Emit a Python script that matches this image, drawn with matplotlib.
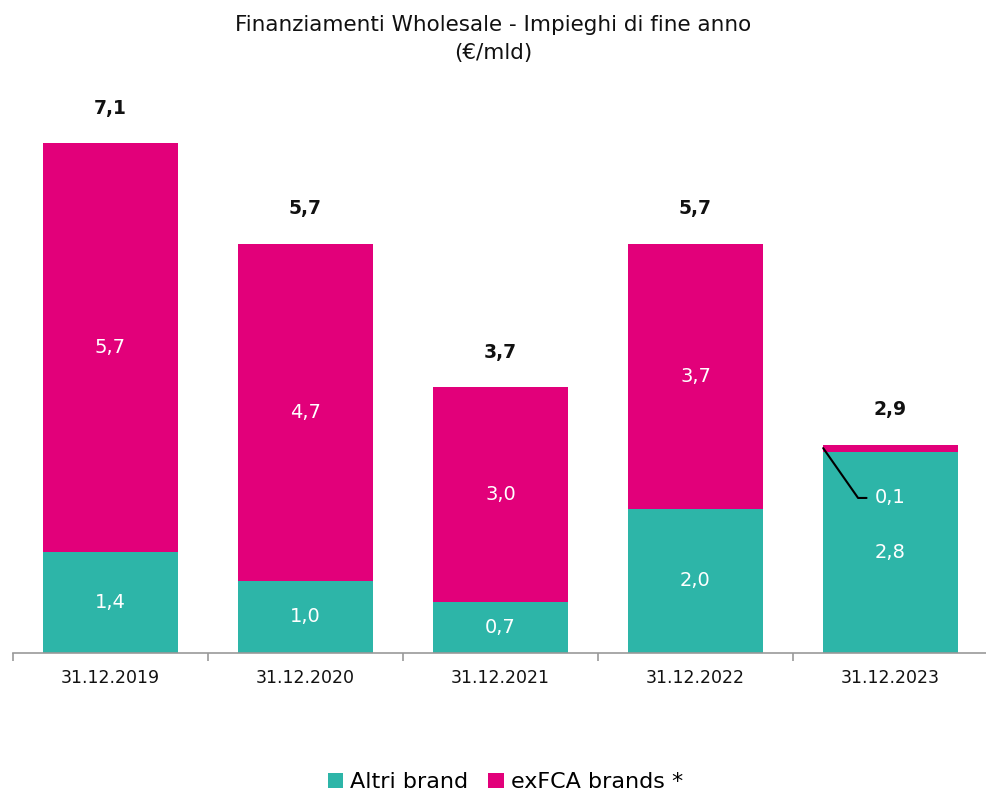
import matplotlib.pyplot as plt
import numpy as np

plt.rcParams['font.family'] = ['DejaVu Sans']

# dati
anni = ['31.12.2019', '31.12.2020', '31.12.2021', '31.12.2022', '31.12.2023']
altri_brand = [1.4, 1.0, 0.7, 2.0, 2.8]
exfca_brands = [5.7, 4.7, 3.0, 3.7, 0.1]
totali = [7.1, 5.7, 3.7, 5.7, 2.9]

teal = '#2DB5A8'
magenta = '#E2007A'

fig = plt.figure(figsize=(9.87, 7.96), dpi=100)
ax = fig.add_axes([0.013, 0.18, 0.988, 0.707])

x = np.arange(len(anni))
w = 0.69
b1 = ax.bar(x, altri_brand, w, color=teal, label='Altri brand')
b2 = ax.bar(x, exfca_brands, w, bottom=altri_brand, color=magenta, label='exFCA brands *')

def fmt(v):
    return f'{v:.1f}'.replace('.', ',')

for i in range(len(anni)):
    ax.text(x[i], altri_brand[i] / 2, fmt(altri_brand[i]), color='white',
            ha='center', va='center', fontsize=14)
    if exfca_brands[i] >= 0.5:
        ax.text(x[i], altri_brand[i] + exfca_brands[i] / 2, fmt(exfca_brands[i]),
                color='white', ha='center', va='center', fontsize=14)
    else:
        # etichetta piccola con linea di richiamo
        ax.annotate(fmt(exfca_brands[i]), xy=(x[i] - w / 2, altri_brand[i] + exfca_brands[i] / 2),
                    xytext=(x[i] - 0.08, altri_brand[i] * 0.77), color='white',
                    ha='left', va='center', fontsize=14,
                    arrowprops=dict(arrowstyle='-', color='black', lw=1.5,
                                    shrinkA=4, shrinkB=0,
                                    connectionstyle='angle,angleA=0,angleB=-55'))
    ax.annotate(fmt(totali[i]), xy=(x[i], altri_brand[i] + exfca_brands[i]),
                xytext=(0, 25), textcoords='offset points', ha='center', va='center',
                fontsize=13.5, fontweight='bold', color='#111111')

ax.set_xlim(-0.5, len(anni) - 0.5)
ax.set_ylim(0, 7.84)
ax.set_xticks(x)
ax.set_xticklabels(anni, fontsize=12.5, color='#111111')
ax.set_xticks(np.arange(-0.5, len(anni)), minor=True)
ax.tick_params(axis='x', which='major', length=0, pad=12)
ax.tick_params(axis='x', which='minor', length=6, width=1.2, color='#999999', direction='out')
ax.set_yticks([])
for s in ['top', 'right', 'left']:
    ax.spines[s].set_visible(False)
ax.spines['bottom'].set_color('#999999')
ax.spines['bottom'].set_linewidth(1.2)

fig.suptitle('Finanziamenti Wholesale - Impieghi di fine anno\n(€/mld)', y=0.981,
             fontsize=15.5, color='#111111', linespacing=1.5)

fig.legend(handles=[b1, b2], loc='center', bbox_to_anchor=(0.512, 0.017), ncol=2,
           frameon=False, fontsize=16, handlelength=0.7, handleheight=0.7,
           handletextpad=0.3, columnspacing=0.9)

fig.savefig('out.png', dpi=100)
